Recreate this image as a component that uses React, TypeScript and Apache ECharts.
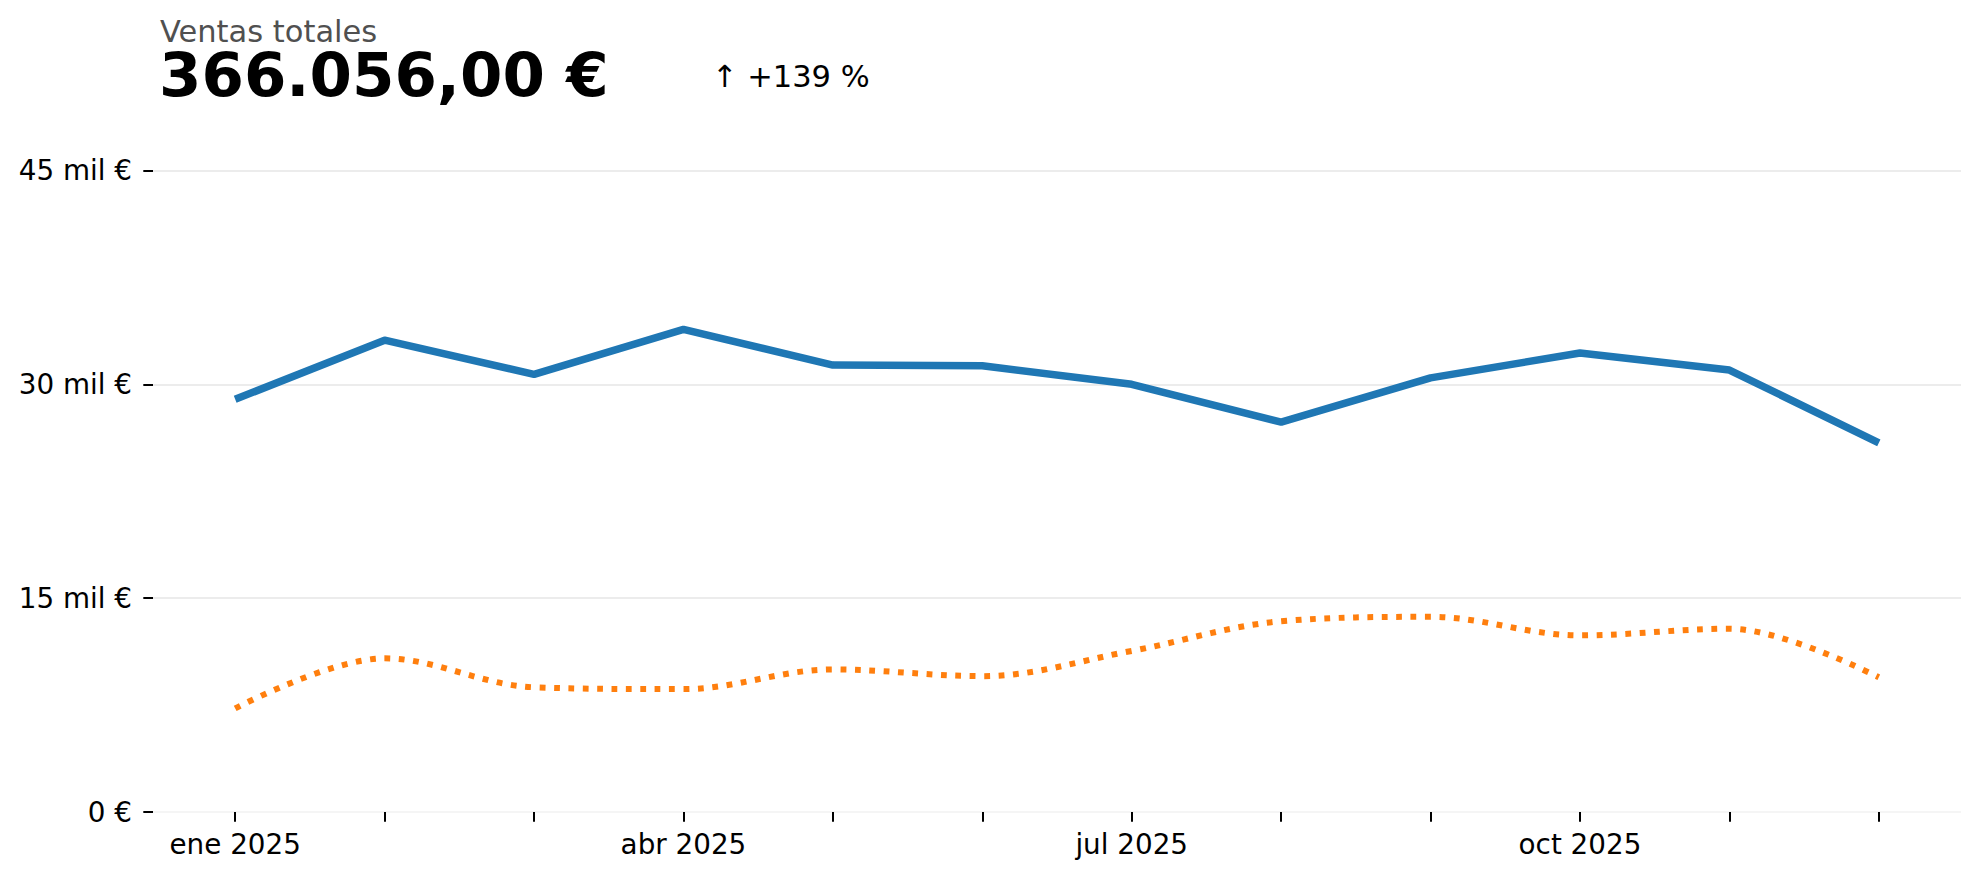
import React, { useEffect, useRef } from "react";
import * as echarts from "echarts";

const months = [
  "ene 2025", "feb 2025", "mar 2025", "abr 2025", "may 2025", "jun 2025",
  "jul 2025", "ago 2025", "sep 2025", "oct 2025", "nov 2025", "dic 2025",
];
const labelIndexes = [0, 3, 6, 9];
const ventas2025 = [28950, 33100, 30700, 33850, 31350, 31300, 30000, 27350, 30450, 32200, 31000, 25900];
const ventas2024 = [7270, 10780, 8750, 8620, 10000, 9530, 11300, 13380, 13690, 12390, 12860, 9450];
const yTicks = [0, 15000, 30000, 45000];

const titleLabel = "Ventas totales";
const totalLabel = "366.056,00 €";
const changeLabel = "↑ +139 %";

const FONT = "'DejaVu Sans', sans-serif";

export default function App() {
  const ref = useRef<HTMLDivElement>(null);
  useEffect(() => {
    if (!ref.current) return;
    const chart = echarts.init(ref.current, undefined, { renderer: "svg" });
    const tickIdx = months.map((_, i) => i);
    chart.setOption({
      animation: false,
      backgroundColor: "#ffffff",
      grid: { left: 153, right: 19, top: 170.5, bottom: 68, containLabel: false },
      xAxis: {
        type: "value",
        min: -0.55,
        max: 11.55,
        axisLine: { show: false, onZero: false },
        splitLine: { show: false },
        axisTick: {
          show: true,
          customValues: tickIdx,
          length: 9.7,
          lineStyle: { color: "#000", width: 2 },
        },
        axisLabel: {
          show: true,
          customValues: labelIndexes,
          formatter: (v: number) => months[Math.round(v)] ?? "",
          fontFamily: FONT,
          fontSize: 27.8,
          color: "#000",
          margin: 18,
        },
      },
      yAxis: {
        type: "value",
        min: yTicks[0],
        max: yTicks[yTicks.length - 1],
        interval: 15000,
        axisLine: { show: false, onZero: false },
        axisTick: { show: true, length: 9.7, lineStyle: { color: "#000", width: 2 } },
        axisLabel: {
          fontFamily: FONT,
          fontSize: 27.8,
          color: "#000",
          margin: 21,
          formatter: (v: number) => (v === 0 ? "0 €" : `${v / 1000} mil €`),
        },
        splitLine: {
          show: true,
          lineStyle: { color: ["#f2f2f2", "#e6e6e6", "#e6e6e6", "#e6e6e6"], width: 1.5 },
        },
      },
      series: [
        {
          type: "line",
          name: "2025",
          data: ventas2025.map((v, i) => [i, v]),
          showSymbol: false,
          smooth: false,
          lineStyle: { color: "#1f77b4", width: 7.5, cap: "butt", join: "round" },
          z: 3,
        },
        {
          type: "line",
          name: "2024",
          data: ventas2024.map((v, i) => [i, v]),
          showSymbol: false,
          smooth: 0.35,
          lineStyle: { color: "#ff7f0e", width: 6, type: [5.8, 8.6], cap: "butt" },
          z: 2,
        },
      ],
      graphic: [
        {
          type: "text",
          x: 160,
          y: 31,
          style: {
            text: titleLabel,
            font: `30.5px ${FONT}`,
            fill: "#505050",
            verticalAlign: "middle",
            align: "left",
            lineHeight: 24,
          },
        },
        {
          type: "text",
          x: 159,
          y: 74,
          style: {
            text: totalLabel,
            font: `bold 61px ${FONT}`,
            fill: "#000",
            verticalAlign: "middle",
            align: "left",
            lineHeight: 46,
          },
        },
        {
          type: "text",
          x: 712,
          y: 76,
          style: {
            text: changeLabel,
            font: `30.5px ${FONT}`,
            fill: "#000",
            verticalAlign: "middle",
            align: "left",
          },
        },
      ],
    });
    return () => chart.dispose();
  }, []);
  return (
    <div
      ref={ref}
      style={{ position: "fixed", left: 0, top: 0, width: 1980, height: 880, background: "#fff" }}
    />
  );
}
